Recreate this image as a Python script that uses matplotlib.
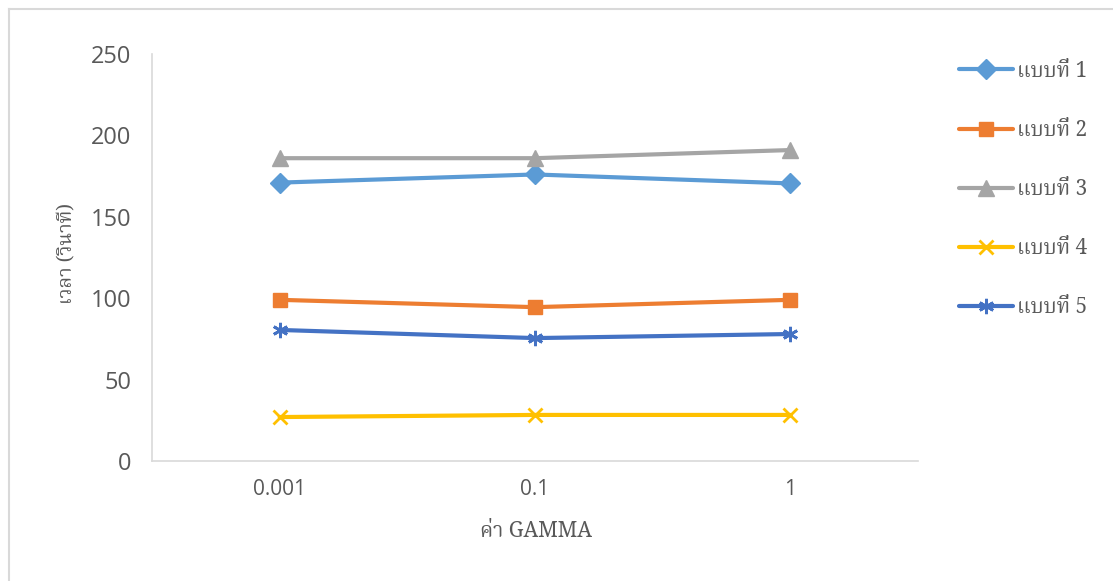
import matplotlib
matplotlib.use("Agg")
import matplotlib.pyplot as plt
from matplotlib import font_manager
from matplotlib.ft2font import FT2Font
from matplotlib.lines import Line2D

# ---- data ----
gamma_labels = ["0.001", "0.1", "1"]
series_names = ["แบบที่ 1", "แบบที่ 2", "แบบที่ 3", "แบบที่ 4", "แบบที่ 5"]
model1 = [171, 176, 170.5]
model2 = [99, 94.5, 99]
model3 = [186, 186, 191]
model4 = [27, 28.3, 28.3]
model5 = [80.5, 75.5, 78]
y_ticks = [0, 50, 100, 150, 200, 250]

series_values = [model1, model2, model3, model4, model5]
colors = ["#5B9BD5", "#ED7D31", "#A5A5A5", "#FFC000", "#4472C4"]
markers = ["D", "s", "^", "x", (6, 2, 0)]
msizes = [10.5, 10.5, 11, 10, 11]


def find_thai_font():
    """Return the name of an installed family that covers Thai script."""
    preferred = ["Noto Serif Thai", "Norasi", "TH Sarabun New", "Noto Sans Thai",
                 "Loma", "Garuda", "Kinnari", "Waree", "Tlwg Typo"]
    found = {}
    for path in font_manager.findSystemFonts():
        try:
            cmap = FT2Font(path).get_charmap()
        except Exception:
            continue
        if 0x0E41 in cmap and 0x0E17 in cmap:
            try:
                name = font_manager.FontProperties(fname=path).get_name()
            except Exception:
                continue
            found[name] = path
    for p in preferred:
        if p in found:
            return p
    if found:
        return sorted(found)[0]
    return None


thai = find_thai_font()
thai_family = [thai, "DejaVu Sans"] if thai else ["DejaVu Sans"]
num_family = ["Open Sans", "DejaVu Sans"]

fig = plt.figure(figsize=(11.13, 5.81), dpi=100)
ax = fig.add_axes([152 / 1113, 1 - 461 / 581, (918 - 152) / 1113, (461 - 54) / 581])

x = list(range(len(gamma_labels)))
handles = []
for name, vals, c, m, ms in zip(series_names, series_values, colors, markers, msizes):
    mew = 2.0 if m in ("x", (6, 2, 0)) else 1.0
    (ln,) = ax.plot(x, vals, color=c, lw=3.0, marker=m, markersize=ms,
                    markerfacecolor=c, markeredgecolor=c, markeredgewidth=mew,
                    solid_capstyle="round", label=name)
    handles.append(ln)

ax.set_xlim(-0.5, 2.5)
ax.set_ylim(0, 250)
ax.set_yticks(y_ticks)
ax.set_xticks(x)
ax.set_xticklabels(gamma_labels)

for s in ("top", "right"):
    ax.spines[s].set_visible(False)
for s in ("left", "bottom"):
    ax.spines[s].set_color("#D9D9D9")
    ax.spines[s].set_linewidth(1.2)
ax.tick_params(length=0)
ax.tick_params(axis="y", pad=15, labelcolor="#595959")
ax.tick_params(axis="x", pad=13, labelcolor="#595959")
for t in ax.get_yticklabels():
    t.set_fontfamily(num_family)
    t.set_fontsize(17)
for t in ax.get_xticklabels():
    t.set_fontfamily(num_family)
    t.set_fontsize(15)

fig.text(536 / 1113, 1 - 531 / 581, "ค่า GAMMA", ha="center", va="center",
         fontsize=15, color="#595959", family=thai_family)
fig.text(67 / 1113, 1 - 254 / 581, "เวลา (วินาที)", ha="center", va="center",
         rotation=90, fontsize=14, color="#595959", family=thai_family)

leg = fig.legend(handles=handles, loc="upper left",
                 bbox_to_anchor=(940 / 1113, 1 - 41 / 581),
                 frameon=False, handlelength=2.6, handletextpad=0.2,
                 labelspacing=1.78, prop={"family": thai_family, "size": 15})
for t in leg.get_texts():
    t.set_color("#595959")

# outer chart border
fig.add_artist(Line2D([9 / 1113, 1.0], [1 - 9 / 581, 1 - 9 / 581],
                      transform=fig.transFigure, color="#D9D9D9", lw=1.5))
fig.add_artist(Line2D([9 / 1113, 9 / 1113], [0.0, 1 - 9 / 581],
                      transform=fig.transFigure, color="#D9D9D9", lw=1.5))

fig.savefig("out.png", dpi=100, facecolor="white")
